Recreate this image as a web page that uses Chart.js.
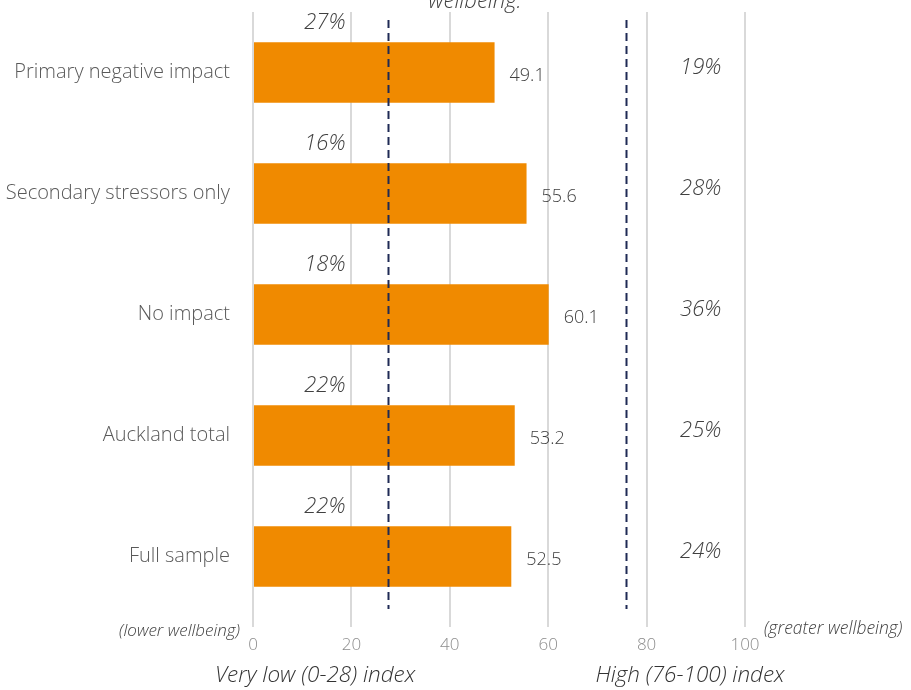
<!DOCTYPE html>
<html>
<head>
<meta charset="utf-8">
<script src="https://cdn.jsdelivr.net/npm/chart.js@4"></script>
<style>
  html, body { margin: 0; padding: 0; background: #fff; }
  #wrap { width: 911px; height: 690px; }
</style>
</head>
<body>
<div id="wrap"><canvas id="myChart" width="911" height="690"></canvas></div>
<script>
// 지표 데이터
const categories = ['Primary negative impact', 'Secondary stressors only', 'No impact', 'Auckland total', 'Full sample'];
const meanIndex = [49.1, 55.6, 60.1, 53.2, 52.5];
const veryLowPct = [27, 16, 18, 22, 22];
const highPct = [19, 28, 36, 25, 24];
const cutoffs = [27.5, 75.8];
const xTicks = [0, 20, 40, 60, 80, 100];

const FONT = '"Open Sans", "Noto Sans", sans-serif';

// 막대 위 라벨, 기준 점선, 아래 설명 문구
const overlay = {
  id: 'overlay',
  afterDatasetsDraw(chart) {
    const ctx = chart.ctx;
    const xs = chart.scales.x;
    const ys = chart.scales.y;
    const area = chart.chartArea;
    ctx.save();

    // 기준 점선
    ctx.strokeStyle = '#1f2a55';
    ctx.lineWidth = 2;
    ctx.setLineDash([8, 5]);
    cutoffs.forEach(v => {
      const x = Math.round(xs.getPixelForValue(v)) + 0.5;
      ctx.beginPath();
      ctx.moveTo(x, area.top + 8);
      ctx.lineTo(x, area.bottom - 8);
      ctx.stroke();
    });
    ctx.setLineDash([]);

    // 평균 값
    ctx.fillStyle = '#404040';
    ctx.font = '300 18px ' + FONT;
    ctx.textAlign = 'left';
    ctx.textBaseline = 'middle';
    meanIndex.forEach((v, i) => {
      ctx.fillText(v.toFixed(1), xs.getPixelForValue(v) + 15, ys.getPixelForValue(i) + 3);
    });

    // 비율 라벨
    ctx.fillStyle = '#404040';
    ctx.font = 'italic 300 22px ' + FONT;
    ctx.textAlign = 'right';
    veryLowPct.forEach((v, i) => {
      ctx.fillText(v + '%', xs.getPixelForValue(18.8), ys.getPixelForValue(i) - 50);
    });
    ctx.textAlign = 'center';
    highPct.forEach((v, i) => {
      ctx.fillText(v + '%', xs.getPixelForValue(91), ys.getPixelForValue(i) - 5);
    });

    // 상단 제목 (잘림)
    ctx.fillText('wellbeing.', 475, 2);

    // 축 양끝 설명
    ctx.font = 'italic 300 17px ' + FONT;
    ctx.textAlign = 'right';
    ctx.fillText('(lower wellbeing)', 240, 631);
    ctx.textAlign = 'left';
    ctx.font = 'italic 300 17.5px ' + FONT;
    ctx.fillText('(greater wellbeing)', 764, 629);

    // 구간 이름
    ctx.fillStyle = '#333333';
    ctx.font = 'italic 300 22.5px ' + FONT;
    ctx.textAlign = 'center';
    ctx.fillText('Very low (0-28) index', 315, 676);
    ctx.fillText('High (76-100) index', 690, 676);

    ctx.restore();
  }
};

new Chart(document.getElementById('myChart'), {
  type: 'bar',
  data: {
    labels: categories,
    datasets: [{
      data: meanIndex,
      backgroundColor: '#f08a00',
      borderWidth: 0,
      barPercentage: 0.6,
      categoryPercentage: 0.83
    }]
  },
  options: {
    indexAxis: 'y',
    responsive: false,
    animation: false,
    layout: { padding: { top: 12, right: 166, left: 0, bottom: 0 } },
    plugins: {
      legend: { display: false },
      tooltip: { enabled: false }
    },
    scales: {
      x: {
        min: 0,
        max: 100,
        afterBuildTicks: s => { s.ticks = xTicks.map(v => ({ value: v })); },
        afterFit: s => { s.height = 73; s.paddingLeft = 0; s.paddingRight = 0; },
        grid: { color: '#d9d9d9', lineWidth: 2, tickLength: 10, drawTicks: true },
        border: { display: false },
        ticks: {
          color: '#8c8c8c',
          font: { family: FONT, size: 17, weight: '300' },
          padding: 8
        }
      },
      y: {
        afterFit: s => { s.width = 253; s.paddingTop = 0; s.paddingBottom = 0; },
        grid: { display: false, drawTicks: false },
        border: { display: false },
        ticks: {
          color: '#595959',
          font: { family: FONT, size: 20, weight: '300' },
          padding: 23
        }
      }
    }
  },
  plugins: [overlay]
});
</script>
</body>
</html>
